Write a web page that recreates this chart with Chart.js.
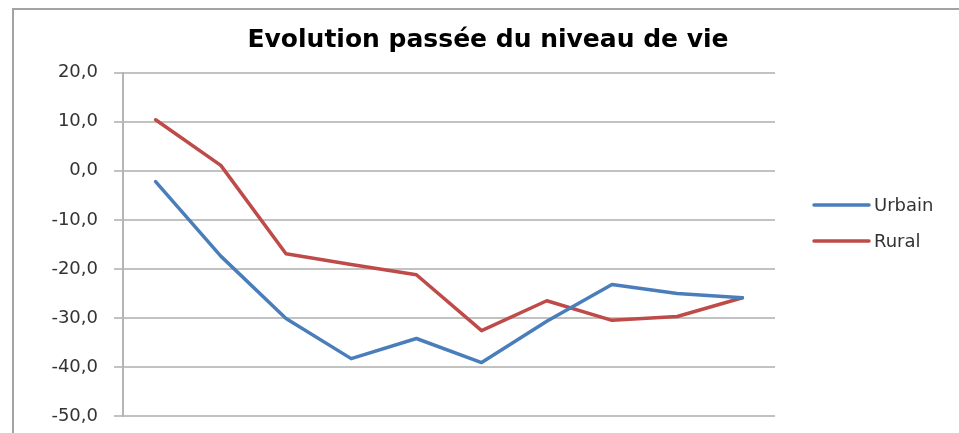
<!DOCTYPE html>
<html lang="fr">
<head>
<meta charset="utf-8">
<title>Evolution passée du niveau de vie</title>
<script src="https://cdn.jsdelivr.net/npm/chart.js@4.4.1/dist/chart.umd.min.js"></script>
<style>
  html, body { margin: 0; padding: 0; background: #fff; }
  .wrap { position: relative; width: 959px; height: 433px; overflow: hidden; }
  .wrap canvas { position: absolute; left: 0; top: 0; }
  /* cadre gris du graphique Excel, coupé à droite et en bas */
  .frame { position: absolute; left: 12px; top: 8px; right: -10px; bottom: -10px;
           border: 2px solid #a3a3a3; pointer-events: none; }
</style>
</head>
<body>
<div class="wrap">
  <canvas id="chart" width="959" height="433"></canvas>
  <div class="frame"></div>
</div>
<script>
// périodes (pas d'étiquettes visibles sur l'axe horizontal)
const periods = ['1', '2', '3', '4', '5', '6', '7', '8', '9', '10'];

const urbain = [-2.2, -17.4, -30.1, -38.3, -34.2, -39.1, -30.7, -23.2, -25.0, -25.9];
const rural  = [10.4, 1.1, -16.9, -19.1, -21.2, -32.6, -26.5, -30.5, -29.7, -25.9];

const yTickLabels = ['-50,0', '-40,0', '-30,0', '-20,0', '-10,0', '0,0', '10,0', '20,0'];

const TEXT_FONT = 'DejaVu Sans';

// légende à droite, dessinée à la main pour coller à la position d'origine
const sideLegend = {
  id: 'sideLegend',
  afterDraw(chart) {
    const { ctx, chartArea } = chart;
    const x0 = chartArea.right + 39;
    ctx.save();
    ctx.font = `18px "${TEXT_FONT}"`;
    ctx.textBaseline = 'middle';
    chart.data.datasets.forEach((ds, i) => {
      const y = 205 + i * 36;
      ctx.strokeStyle = ds.borderColor;
      ctx.lineWidth = 3.5;
      ctx.lineCap = 'round';
      ctx.beginPath();
      ctx.moveTo(x0, y);
      ctx.lineTo(x0 + 55, y);
      ctx.stroke();
      ctx.fillStyle = '#333';
      ctx.fillText(ds.label, x0 + 60, y + 1);
    });
    ctx.restore();
  }
};

new Chart(document.getElementById('chart'), {
  type: 'line',
  data: {
    labels: periods,
    datasets: [
      { label: 'Urbain', data: urbain, borderColor: '#4a7ebb', borderWidth: 3.5 },
      { label: 'Rural',  data: rural,  borderColor: '#be4b48', borderWidth: 3.5 },
    ]
  },
  options: {
    responsive: false,
    animation: false,
    layout: { padding: { left: 17, right: 0, top: 0, bottom: 17 } },
    elements: {
      point: { radius: 0, hoverRadius: 0 },
      line: { tension: 0, borderJoinStyle: 'round', borderCapStyle: 'round' }
    },
    plugins: {
      legend: { display: false },
      tooltip: { enabled: false },
      title: {
        display: true,
        text: 'Evolution passée du niveau de vie',
        color: '#000',
        font: { family: TEXT_FONT, size: 25, weight: 'bold' },
        padding: { top: 25.5, bottom: 17.2 }
      }
    },
    scales: {
      x: {
        display: false,
        offset: true
      },
      y: {
        min: -50,
        max: 20,
        afterFit(scale) {
          scale.width = 106;
          scale.paddingBottom = 0; // sinon le padding des ticks remonte l'axe
        },
        ticks: {
          stepSize: 10,
          padding: 16,
          color: '#333',
          font: { family: TEXT_FONT, size: 18 },
          callback: (v, i) => yTickLabels[i]
        },
        grid: { color: '#c2c2c2', lineWidth: 2, tickLength: 9, tickColor: '#c2c2c2' },
        border: { color: '#b5b5b5', width: 2 }
      },
      // axe vide à droite : réserve la place de la légende sans décaler le titre
      spacer: {
        position: 'right',
        afterFit(scale) { scale.width = 184; },
        grid: { display: false },
        ticks: { display: false },
        border: { display: false }
      }
    }
  },
  plugins: [sideLegend]
});
</script>
</body>
</html>
